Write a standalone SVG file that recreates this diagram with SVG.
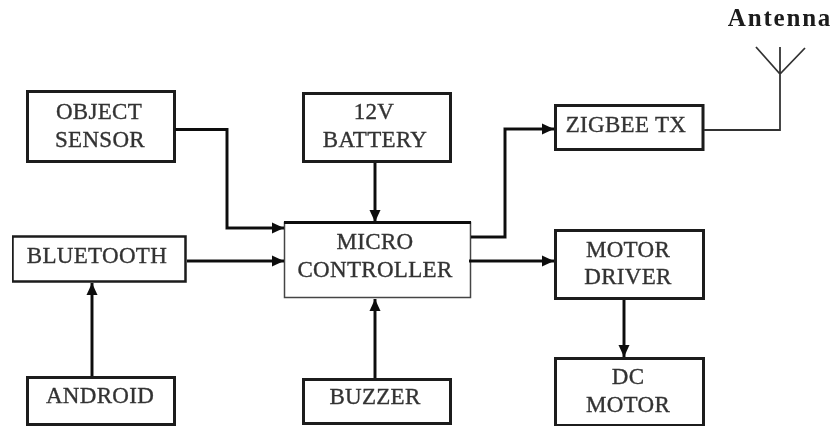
<svg xmlns="http://www.w3.org/2000/svg" width="834" height="427" viewBox="0 0 834 427">
<defs>
<marker id="a" markerUnits="userSpaceOnUse" markerWidth="12" markerHeight="12" refX="12" refY="6" orient="auto"><path d="M0 .5L12 6L0 11.500Z" fill="#111"/></marker>
<filter id="soft" x="0" y="0" width="100%" height="100%"><feGaussianBlur stdDeviation="0.45"/></filter>
</defs>
<style>.n{fill:#fff;stroke:#1a1a1a;stroke-width:3}.t{font-family:"Liberation Serif",serif;font-size:23px;letter-spacing:.3px;fill:#333;stroke:#333;stroke-width:.35px;text-anchor:middle}.c{fill:none;stroke:#111;stroke-width:3;marker-end:url(#a)}</style>
<rect width="834" height="427" fill="#fff"/>
<g filter="url(#soft)">
<g id="object-sensor"><rect class="n" x="27.500" y="91.500" width="147" height="70"/><text class="t" x="99" y="119">OBJECT</text><text class="t" x="100" y="147">SENSOR</text></g>
<g id="battery"><rect class="n" x="303.500" y="93.500" width="147" height="68"/><text class="t" x="374" y="119">12V</text><text class="t" x="375" y="147">BATTERY</text></g>
<g id="zigbee"><rect class="n" x="555.500" y="105.500" width="147.500" height="44"/><text class="t" x="626" y="132">ZIGBEE TX</text></g>
<g id="bluetooth"><rect x="12.500" y="236.500" width="173" height="45" fill="#fff" stroke="#1a1a1a" stroke-width="2.500"/><text class="t" x="97" y="263">BLUETOOTH</text></g>
<g id="micro"><rect x="284.500" y="222.500" width="186" height="75" fill="#fff" stroke="#444" stroke-width="1.500"/><path d="M284 222.500H471" fill="none" stroke="#111" stroke-width="3"/><text class="t" x="375" y="249">MICRO</text><text class="t" x="375" y="277">CONTROLLER</text></g>
<g id="motor-driver"><rect class="n" x="555.500" y="230.500" width="148" height="68"/><text class="t" x="628" y="257">MOTOR</text><text class="t" x="628" y="284">DRIVER</text></g>
<g id="android"><rect class="n" x="27.500" y="377.500" width="147" height="47"/><text class="t" x="100" y="403">ANDROID</text></g>
<g id="buzzer"><rect class="n" x="303.500" y="379.500" width="147" height="44"/><text class="t" x="375" y="404">BUZZER</text></g>
<g id="dc-motor"><rect class="n" x="555.500" y="358.500" width="148" height="67"/><text class="t" x="628" y="384">DC</text><text class="t" x="628" y="412">MOTOR</text></g>
<g id="antenna"><text x="780" y="26" font-family="Liberation Serif,serif" font-size="25" font-weight="bold" letter-spacing="1.800" text-anchor="middle" fill="#1a1a1a">Antenna</text></g>
<g id="connectors">
<path class="c" d="M175 129.500H227V228H284"/><path class="c" d="M375 163V222"/><path class="c" d="M471 237H505V129H554"/><path class="c" d="M187 261H284"/><path class="c" d="M469 261H554"/><path class="c" d="M92 376V283"/><path class="c" d="M375 378V299"/><path class="c" d="M624 300V357"/>
<path d="M704 130H780V47M756 47L780 74L805 48" fill="none" stroke="#333" stroke-width="1.800"/>
</g>
</g>
</svg>
